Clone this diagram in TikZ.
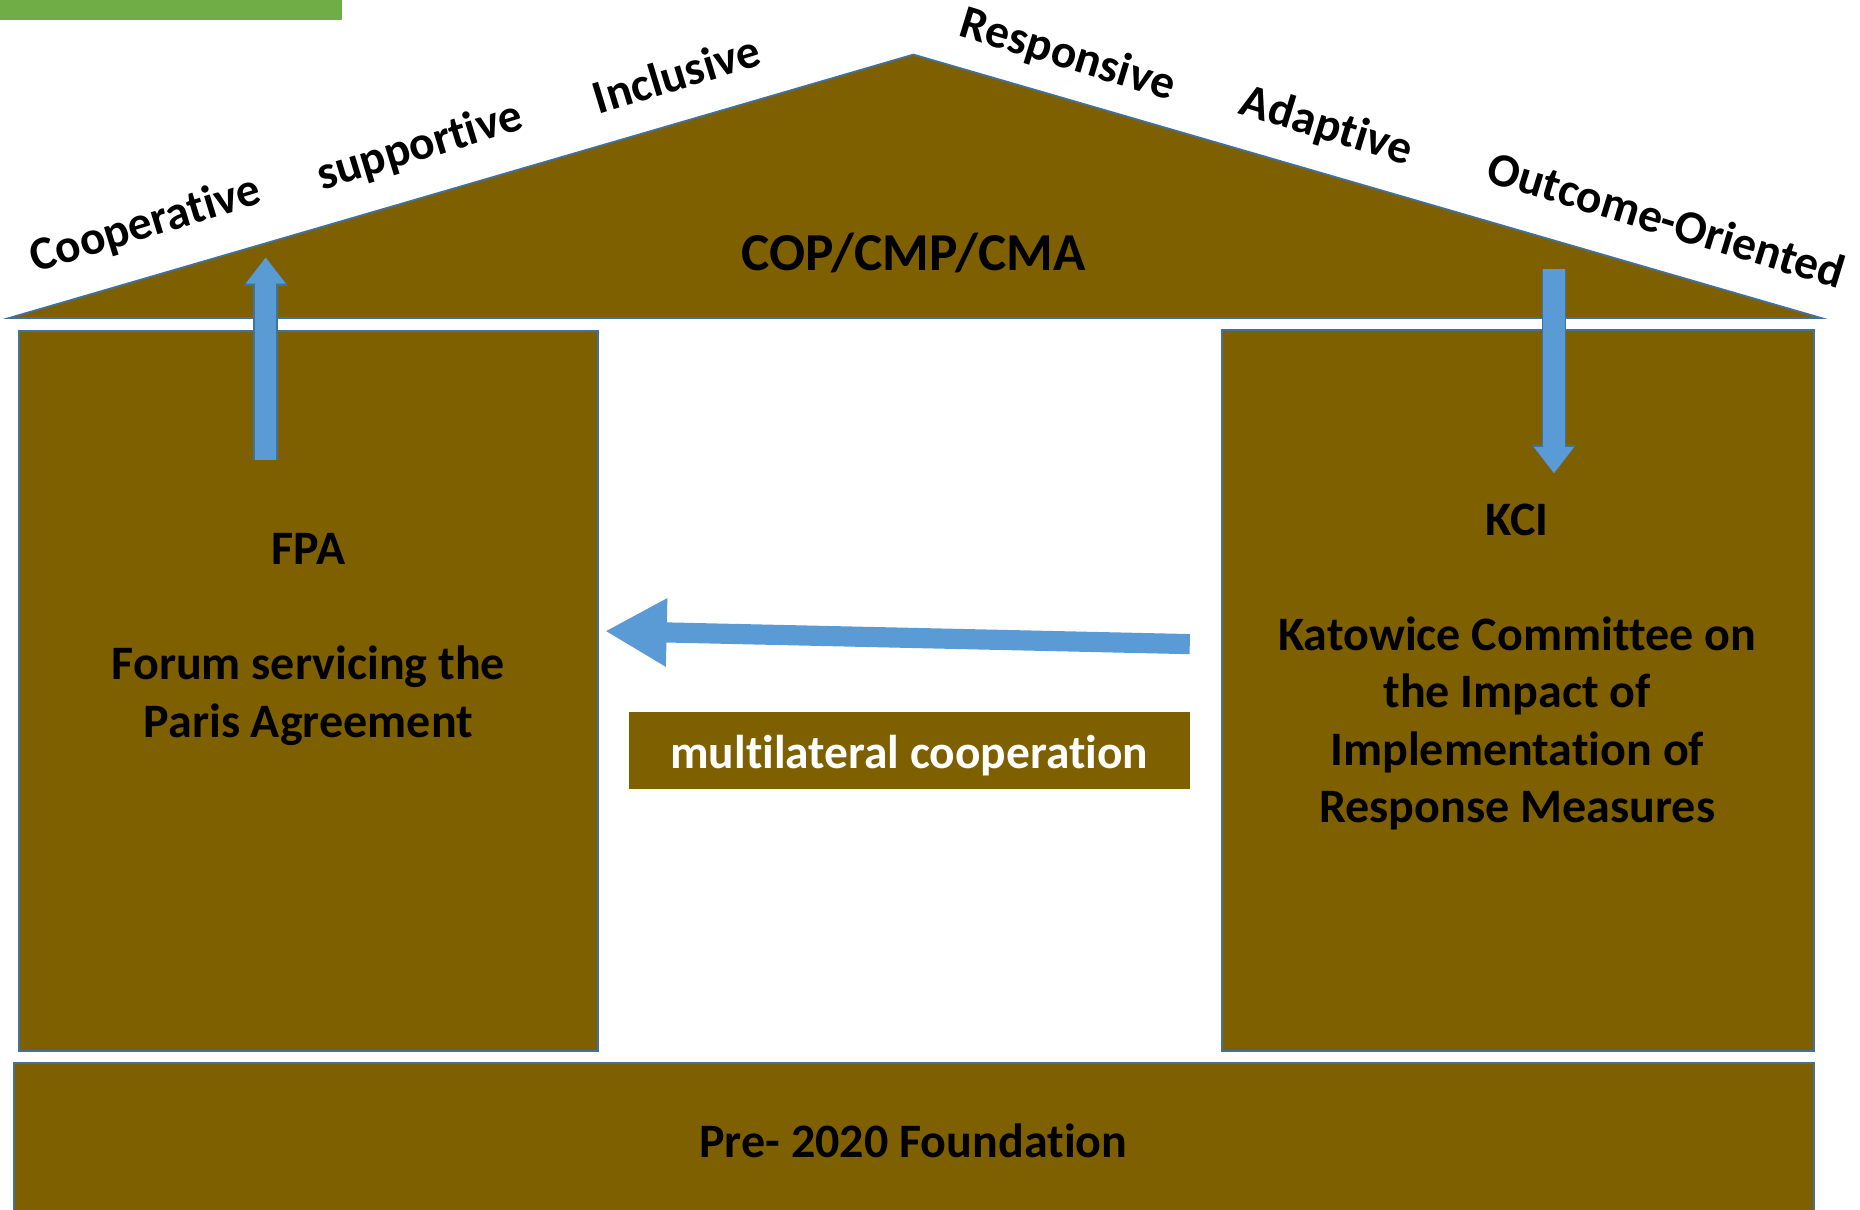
\documentclass[tikz,border=0pt]{standalone}
\usepackage{fontspec}
\setmainfont[Ligatures=NoCommon]{Carlito}
\usetikzlibrary{arrows.meta, positioning, calc}
\definecolor{roofbrown}{RGB}{127, 96, 0}
\definecolor{edgeblue}{RGB}{65, 113, 156}
\definecolor{arrowblue}{RGB}{91, 155, 213}
\definecolor{tabgreen}{RGB}{112, 173, 71}

\begin{document}
\begin{tikzpicture}[x=1pt, y=-1pt,
  pillar/.style={draw=edgeblue, line width=1.5pt, fill=roofbrown, inner sep=0pt},
  txt/.style={font=\fontsize{40.5}{48.5}\selectfont\bfseries, align=center, inner sep=0pt},
  word/.style={font=\fontsize{40}{44}\selectfont\bfseries, inner sep=0pt},
  blockarrow/.style={arrowblue, line width=18pt, -{Triangle[width=32pt, length=22pt]},
    preaction={draw=edgeblue, line width=21pt, -{Triangle[width=36pt, length=24pt]}}},
]
\useasboundingbox (0,0) rectangle (1568,1020);
\clip (0,0) rectangle (1568,1020);

% Tab
\node[fill=tabgreen, minimum width=288, minimum height=24, inner sep=0pt, anchor=south west] (tab) at (0,17) {};

% Roof
\draw[draw=edgeblue, line width=1.5pt, fill=roofbrown] (8,268) -- (770,46) -- (1535,268) -- cycle;
\node[txt, font=\fontsize{45}{48}\selectfont\bfseries] (cop) at (770,213) {COP/CMP/CMA};

% Roof words
\node[word, rotate=17] (coop) at (123,190) {Cooperative};
\node[word, rotate=17] (supp) at (354,124) {supportive};
\node[word, rotate=17] (incl) at (570,62) {Inclusive};
\node[word, rotate=-17] (resp) at (900,47) {Responsive};
\node[word, rotate=-17] (adap) at (1118,107) {Adaptive};
\node[word, rotate=-17] (outc) at (1405,185) {Outcome-Oriented};

% Pillars
\node[pillar, minimum width=488, minimum height=607] (fpa) at (260,582.5) {};
\node[pillar, minimum width=499, minimum height=608] (kci) at (1279.5,582) {};
\node[pillar, minimum width=1517, minimum height=144] (base) at (770.5,968) {};

\node[txt] (fpatxt) at (260,539) {FPA\\[49pt]Forum servicing the\\Paris Agreement};
\node[txt] (kcitxt) at (1279,562.5) {KCI\\[48pt]Katowice Committee on\\the Impact of\\Implementation of\\Response Measures};
\node[txt] (basetxt) at (770,962) {Pre- 2020 Foundation};

% Middle
\node[fill=roofbrown, minimum width=473, minimum height=65, inner sep=0pt, text=white,
      text height=33pt, text depth=3pt,
      font=\fontsize{40}{44}\selectfont\bfseries] (multi) at (766.5,632.5) {multilateral cooperation};

% Arrows
\coordinate (upS) at (224,388);
\coordinate (upE) at (224,217);
\coordinate (dnS) at (1310,227);
\coordinate (dnE) at (1310,399);
\coordinate (arrR) at (1003,543);
\coordinate (arrL) at (510,532);
\draw[blockarrow] (upS) -- (upE);
\draw[blockarrow] (dnS) -- (dnE);
\draw[arrowblue, line width=17pt, -{Triangle[width=54pt, length=52pt]}] (arrR) -- (arrL);
\end{tikzpicture}
\end{document}
